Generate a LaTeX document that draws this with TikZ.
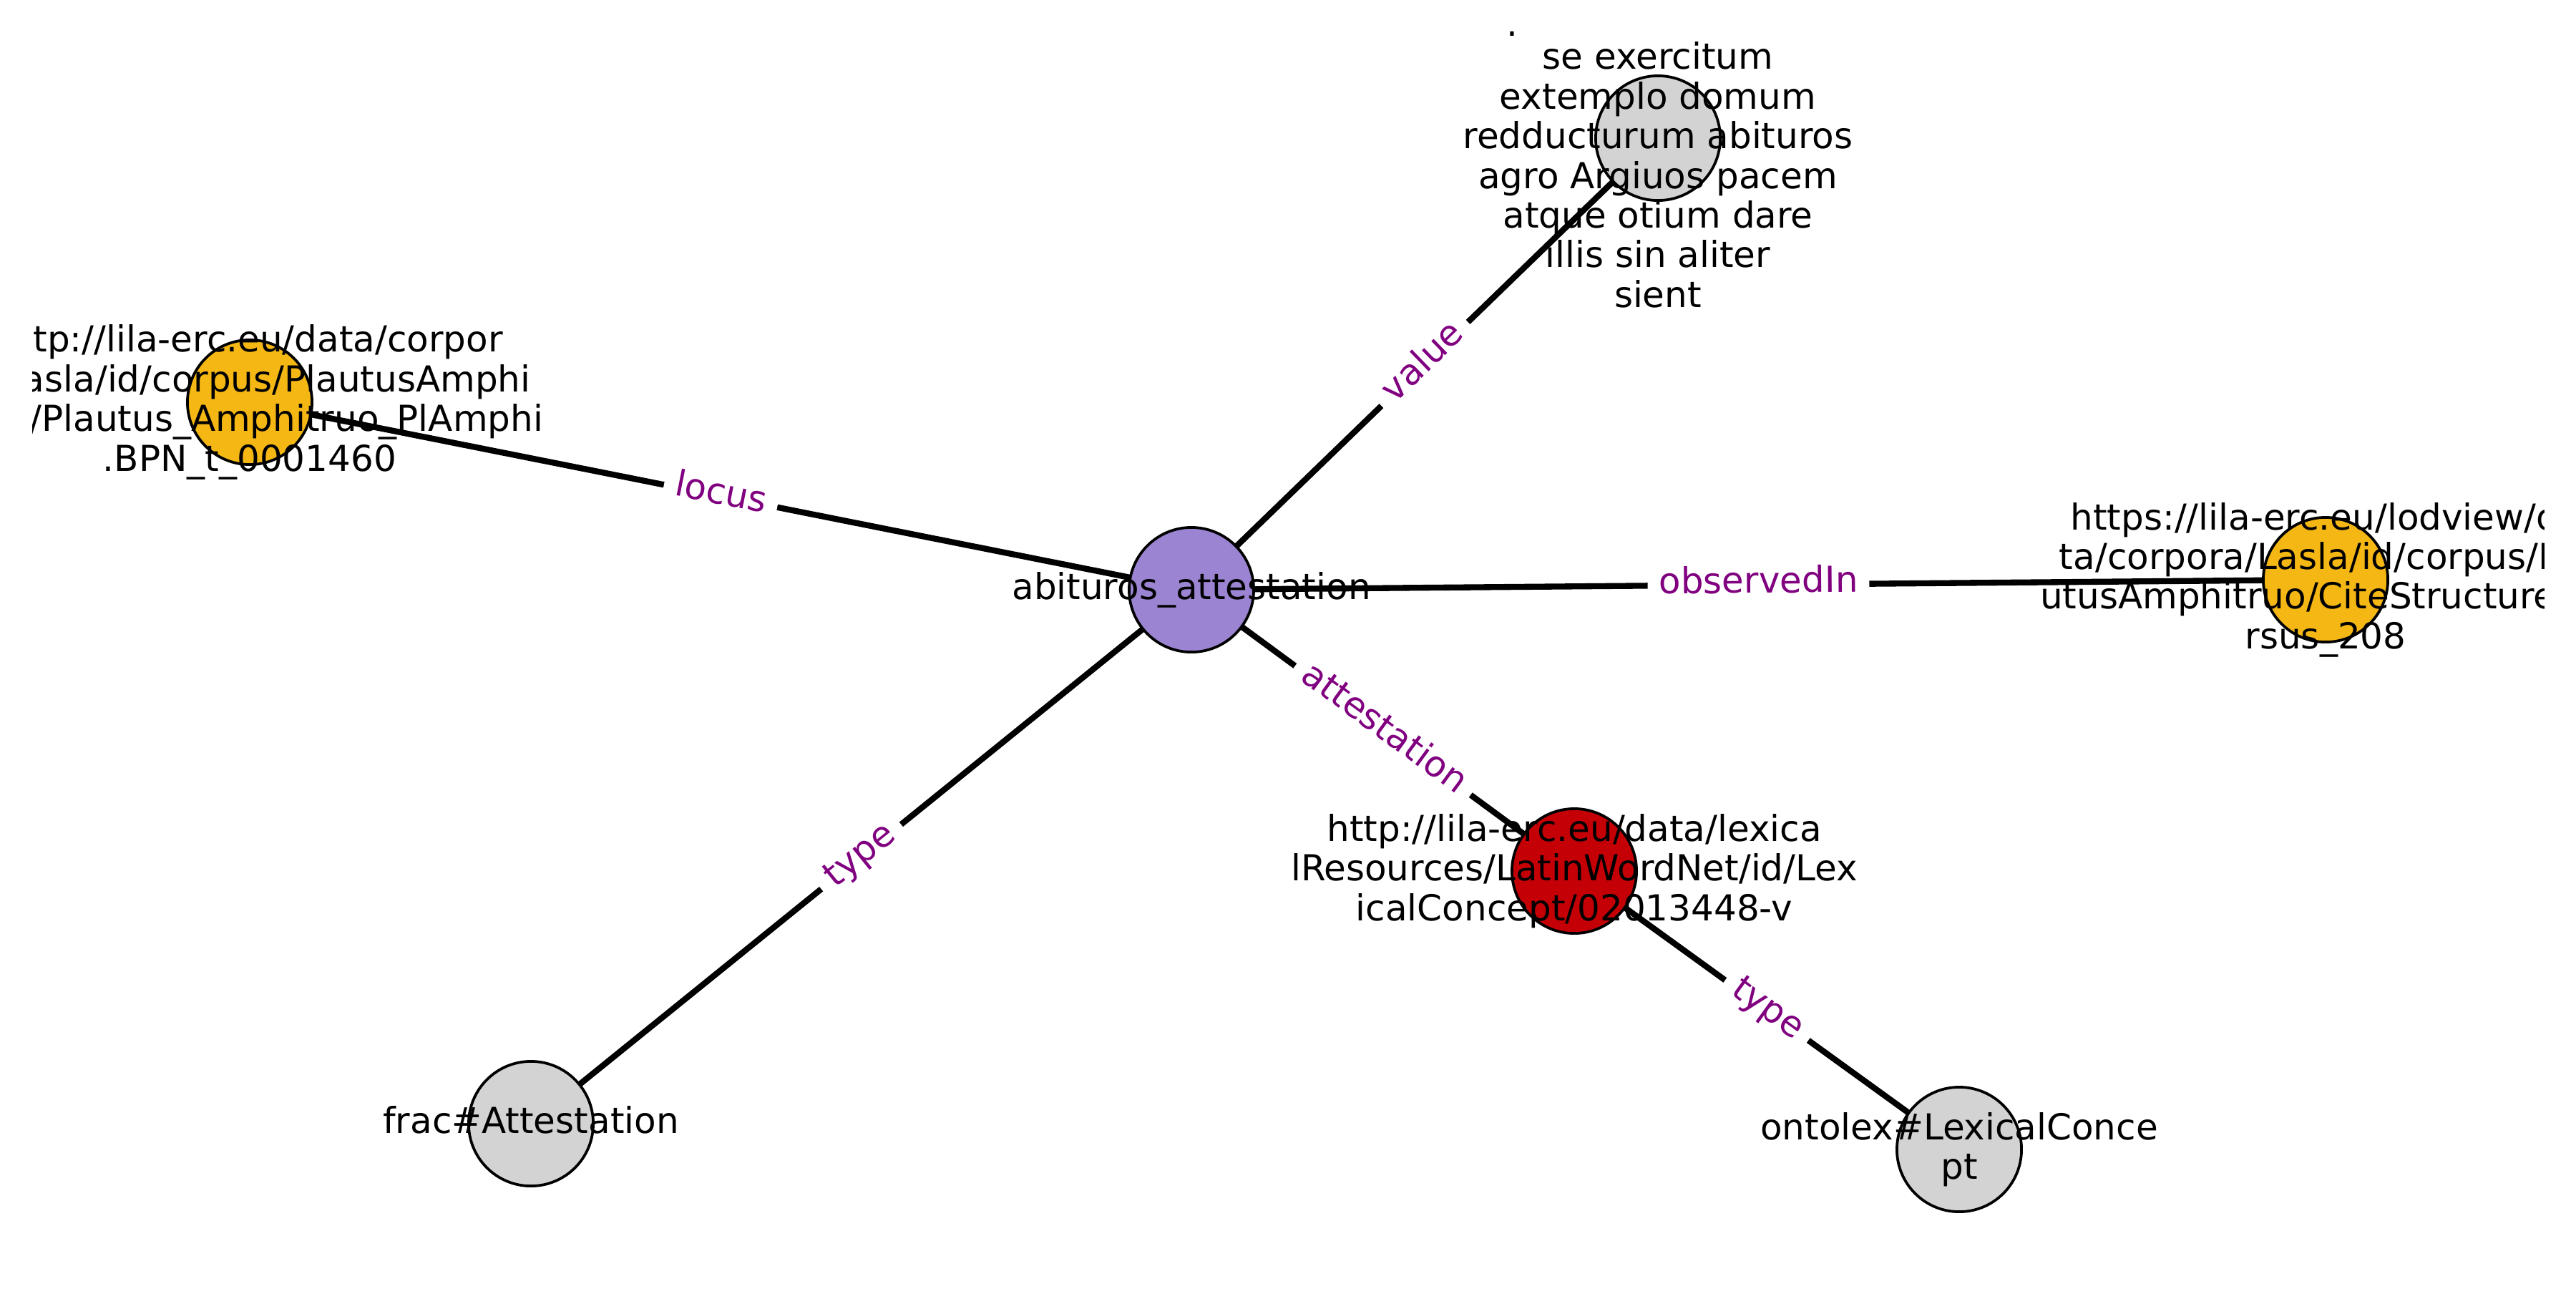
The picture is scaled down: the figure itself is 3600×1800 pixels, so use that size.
\documentclass[tikz,border=0pt]{standalone}
\usepackage{fontspec}
\setmainfont{DejaVu Sans}
\pgfdeclarelayer{bglayer}
\pgfdeclarelayer{edgelayer}
\pgfsetlayers{bglayer,edgelayer,main}
\definecolor{cpurple}{RGB}{155,132,209}
\definecolor{corange}{RGB}{245,183,20}
\definecolor{cred}{RGB}{196,0,6}
\definecolor{cgray}{RGB}{211,211,211}
\definecolor{elabelc}{RGB}{128,0,128}
\newcommand\lpv{\vphantom{lp}}
\tikzset{
  vert/.style={circle, draw=black, line width=0.9pt, minimum size=41.8pt, inner sep=0pt},
  vtext/.style={align=center, inner sep=0pt, font=\fontsize{12pt}{13.3pt}\selectfont},
  edgeline/.style={line width=2pt, draw=black},
  elabel/.style={fill=white, rounded corners=3pt, inner xsep=3.8pt, inner ysep=2pt,
    text=elabelc, font=\fontsize{12pt}{14pt}\selectfont, text height=0.76em, text depth=0.21em,
    sloped, midway}
}
\begin{document}
\begin{tikzpicture}[x=0.24pt, y=-0.24pt]
\useasboundingbox (0,0) rectangle (3600,1800);
\begin{pgfonlayer}{bglayer}
\fill[white] (0,0) rectangle (3600,1800);
\end{pgfonlayer}
% vertices
\node[vert, fill=cpurple] (c) at (1665,824) {};
\node[vert, fill=cgray]   (v) at (2317,193) {};
\node[vert, fill=corange] (l) at (349,562) {};
\node[vert, fill=corange] (o) at (3250,810) {};
\node[vert, fill=cred]    (a) at (2200,1217) {};
\node[vert, fill=cgray]   (t) at (742,1570) {};
\node[vert, fill=cgray]   (x) at (2738,1606) {};
% edges
\begin{pgfonlayer}{edgelayer}
\draw[edgeline] (l.center) -- node[elabel] {locus} (c.center);
\draw[edgeline] (c.center) -- node[elabel] {value} (v.center);
\draw[edgeline] (c.center) -- node[elabel] {observedIn} (o.center);
\draw[edgeline] (c.center) -- node[elabel] {attestation} (a.center);
\draw[edgeline] (t.center) -- node[elabel] {type} (c.center);
\draw[edgeline] (a.center) -- node[elabel] {type} (x.center);
\end{pgfonlayer}
% vertex texts, clipped to the plotting area
\begin{scope}
\clip (45,22) rectangle (3555,1778);
\node[vtext] (ct) at (c) {\lpv abituros\_attestation};
\node[vtext] (vt) at (2317,226) {\vphantom{l}\makebox[101.3pt][l]{.}\\[-2.16pt]
  se exercitum\\ extemplo domum\\ redducturum abituros\\ agro Argiuos pacem\\
  atque otium dare\\ illis sin aliter\\ \lpv sient};
\node[vtext] (lt) at (l) {\lpv http://lila-erc.eu/data/corpor\\ a/Lasla/id/corpus/PlautusAmphi\\
  truo/Plautus\_Amphitruo\_PlAmphi\\ \lpv .BPN\_t\_0001460};
\node[vtext] (ot) at (o) {\lpv https://lila-erc.eu/lodview/da\\ ta/corpora/Lasla/id/corpus/Pla\\
  utusAmphitruo/CiteStructure/ve\\ \lpv rsus\_208};
\node[vtext] (at) at (a) {\lpv http://lila-erc.eu/data/lexica\\ lResources/LatinWordNet/id/Lex\\
  \lpv icalConcept/02013448-v};
\node[vtext] (tt) at (t) {\lpv frac\#Attestation};
\node[vtext] (xt) at (x) {\lpv ontolex\#LexicalConce\\ \lpv pt};
\end{scope}
\end{tikzpicture}
\end{document}
